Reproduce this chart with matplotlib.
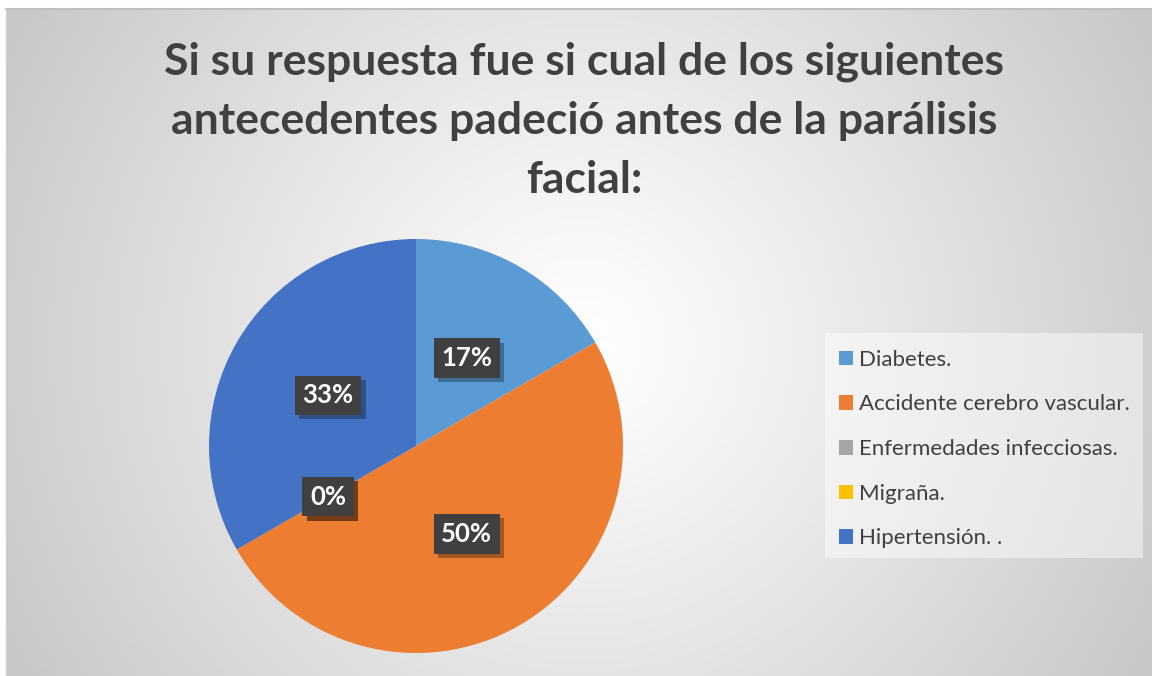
import numpy as np
import matplotlib
matplotlib.use("Agg")
import matplotlib.pyplot as plt
from matplotlib.patches import Rectangle, Patch
import matplotlib.patheffects as pe

# ---- data ----
categories = ["Diabetes.", "Accidente cerebro vascular.", "Enfermedades infecciosas.",
              "Migraña.", "Hipertensión. ."]
values = [1, 3, 0, 0, 2]
colors = ["#5B9BD5", "#ED7D31", "#A5A5A5", "#FFC000", "#4472C4"]
title_lines = ["Si su respuesta fue si cual de los siguientes",
               "antecedentes padeció antes de la parálisis",
               "facial:"]

W, H = 1152, 676
fig = plt.figure(figsize=(W / 100, H / 100), dpi=100)
fig.patch.set_facecolor("white")

# ---- background radial gradient (chart area) ----
bg = fig.add_axes([6 / W, 0, 1 - 6 / W, 1 - 9 / H])
bg.set_axis_off()
yy, xx = np.mgrid[0:200, 0:300]
cx, cy = 150, 100
d = np.sqrt(((xx - cx) * 1146 / 300) ** 2 + ((yy - cy) * 667 / 200) ** 2) / 660
t = np.clip(d, 0, 1)
g = 1.0 - (1.0 - 0.78) * t ** 1.1
img = np.dstack([g, g, g])
bg.imshow(img, aspect="auto", extent=[0, 1, 0, 1], origin="upper")
bg.set_xlim(0, 1)
bg.set_ylim(0, 1)
bg.plot([0, 1], [1, 1], color="#bfbfbf", lw=1.5, transform=bg.transAxes, clip_on=False)
bg.plot([0, 0], [0, 1], color="#d0d0d0", lw=1, transform=bg.transAxes, clip_on=False)

# ---- title ----
for i, line in enumerate(title_lines):
    fig.text(584 / W, 1 - (75 + 59 * i) / H, line, ha="center", va="baseline",
             fontsize=32, fontweight="bold", family="Lato", color="#404040")

# ---- pie ----
r = 207
cxp, cyp = 416, 446
ax = fig.add_axes([(cxp - r) / W, (H - cyp - r) / H, 2 * r / W, 2 * r / H])
wedges, texts, autotexts = ax.pie(values, colors=colors, startangle=90, counterclock=False,
                                  autopct="%1.0f%%", pctdistance=0.49,
                                  wedgeprops=dict(linewidth=0),
                                  textprops=dict(color="white", fontsize=18.5,
                                                 fontweight="bold", family="Lato"))
ax.set_xlim(-1, 1)
ax.set_ylim(-1, 1)
ax.set_aspect("equal")
ax.set_axis_off()
for at in autotexts:
    at.set_bbox(dict(boxstyle="square,pad=0.3", fc="#404040", ec="none"))
    at.get_bbox_patch().set_path_effects([
        pe.SimplePatchShadow(offset=(3, -3), shadow_rgbFace="black", alpha=0.3),
        pe.Normal()])

# ---- legend ----
fig.patches.append(Rectangle((825 / W, 1 - 558 / H), 318 / W, 225 / H,
                             transform=fig.transFigure, facecolor="white",
                             alpha=0.45, edgecolor="none"))
handles = [Patch(facecolor=c, edgecolor="none") for c in colors]
leg = fig.legend(handles, categories, loc="upper left",
                 bbox_to_anchor=(821 / W, 1 - 332 / H), frameon=False,
                 prop=dict(family="Lato", size=16), labelcolor="#404040",
                 handlelength=0.63, handleheight=0.63, handletextpad=0.27,
                 labelspacing=1.11, borderpad=0.3)

fig.savefig("out.png", dpi=100)
